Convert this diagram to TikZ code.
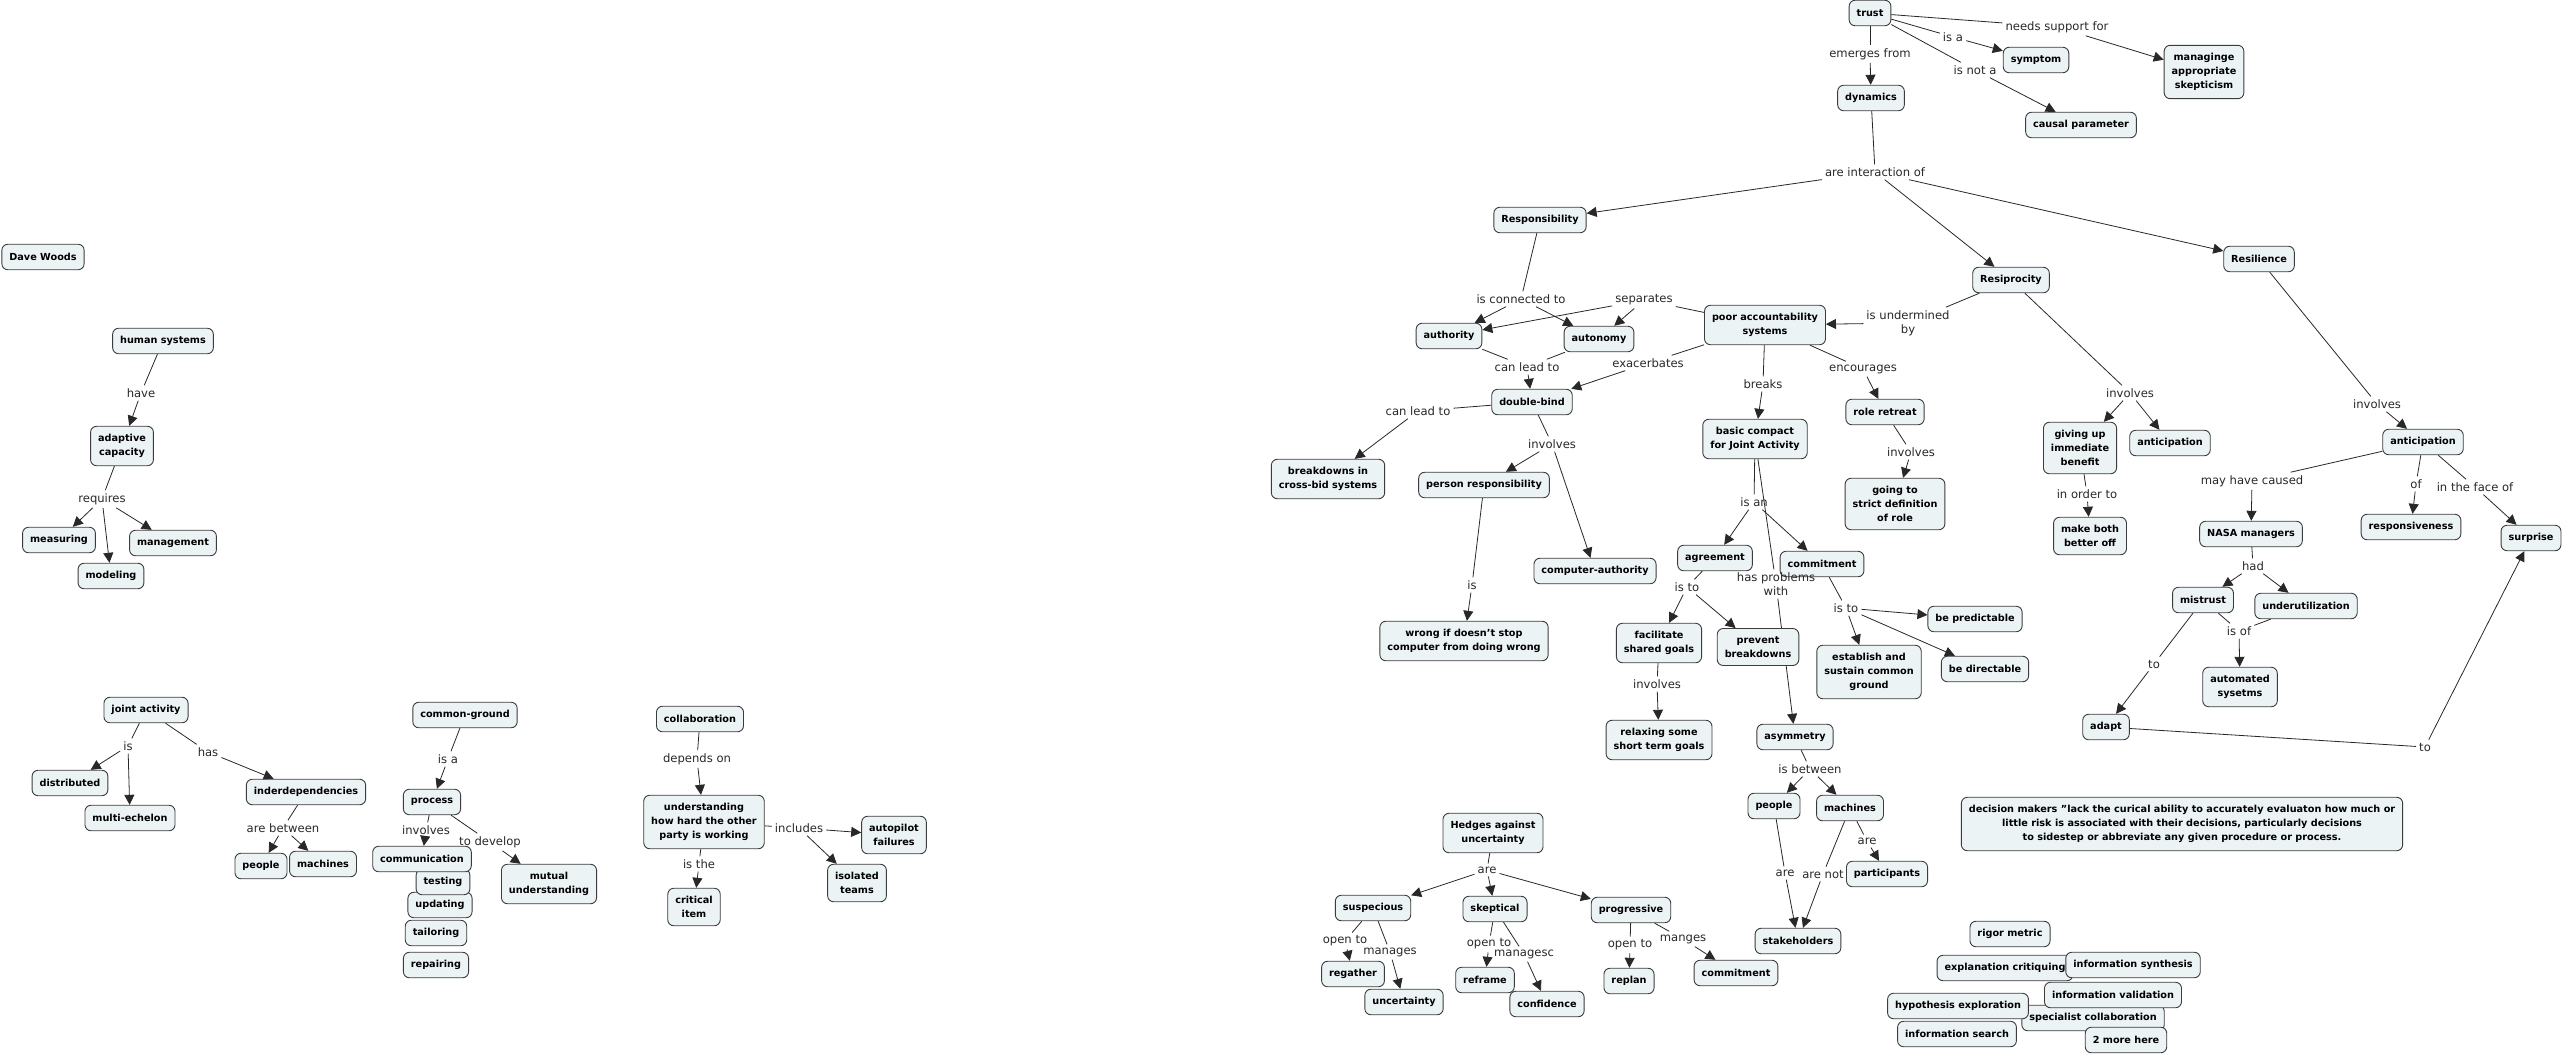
\documentclass[tikz,border=0pt]{standalone}
\usepackage{fontspec}
\setmainfont{DejaVu Sans}
\usetikzlibrary{arrows.meta,backgrounds}

\definecolor{boxfill}{RGB}{236,243,245}
\definecolor{boxline}{RGB}{60,60,60}
\definecolor{linkgray}{RGB}{40,40,40}

\begin{document}
\begin{tikzpicture}[x=1pt,y=-1pt,
  cbox/.style={draw=boxline, fill=boxfill, rounded corners=6pt, line width=0.9pt,
    font=\fontsize{9.7}{14}\selectfont\bfseries, align=center,
    inner xsep=7.5pt, inner ysep=8pt, minimum height=25.5pt},
  lword/.style={font=\fontsize{11.6}{14}\selectfont, text=linkgray, align=center, inner sep=3pt},
  cline/.style={draw=linkgray, line width=0.8pt},
  carrow/.style={cline, -{Triangle[length=10pt,width=10pt]}}]

\useasboundingbox (0,0) rectangle (2563,1055);

% left column
\node[cbox] (woods) at (43,257) {Dave Woods};
\node[cbox] (humsys) at (163,341) {human systems};
\node[lword] (have) at (141,393) {have};
\node[cbox] (adapcap) at (122,446) {adaptive\\capacity};
\node[lword] (requires) at (102,499) {requires};
\node[cbox] (measuring) at (59,540) {measuring};
\node[cbox] (modeling) at (111,576) {modeling};
\node[cbox] (management) at (173,543) {management};

\node[cbox] (jointact) at (146,710) {joint activity};
\node[lword] (jaIs) at (128,746) {is};
\node[cbox] (distributed) at (70,783) {distributed};
\node[cbox] (multiech) at (130,818) {multi-echelon};
\node[lword] (jaHas) at (208,752) {has};
\node[cbox] (interdep) at (306,792) {inderdependencies};
\node[lword] (arebetween) at (283,828) {are between};
\node[cbox] (peopleA) at (261,866) {people};
\node[cbox] (machinesA) at (323,864) {machines};

\node[cbox] (commonground) at (465,715) {common-ground};
\node[lword] (isa) at (448,759) {is a};
\node[cbox] (process) at (432,802) {process};
\node[lword] (prInvolves) at (426,830) {involves};
\node[lword] (todevelop) at (490,842) {to develop};
\node[cbox] (repairing) at (436,965) {repairing};
\node[cbox] (tailoring) at (436,933) {tailoring};
\node[cbox] (updating) at (440,905) {updating};
\node[cbox] (testing) at (443,882) {testing};
\node[cbox] (communication) at (422,859) {communication};
\node[cbox] (mutual) at (549,884) {mutual\\understanding};

\node[cbox] (collab) at (700,719) {collaboration};
\node[lword] (dependson) at (697,759) {depends on};
\node[cbox] (understanding) at (704,822) {understanding\\how hard the other\\party is working};
\node[lword] (includes) at (799,828) {includes};
\node[cbox] (autopilot) at (894,835) {autopilot\\failures};
\node[cbox] (isolated) at (857,883) {isolated\\teams};
\node[lword] (isthe) at (699,864) {is the};
\node[cbox] (critical) at (694,907) {critical\\item};

% trust
\node[cbox] (trust) at (1870,13) {trust};
\node[lword] (emerges) at (1870,54) {emerges from};
\node[cbox] (dynamics) at (1871,98) {dynamics};
\node[lword] (trIsa) at (1953,37) {is a};
\node[cbox] (symptom) at (2036,60) {symptom};
\node[lword] (trIsnota) at (1975,70) {is not a};
\node[cbox] (causal) at (2081,125) {causal parameter};
\node[lword] (needs) at (2057,27) {needs support for};
\node[cbox] (managinge) at (2204,72) {managinge\\appropriate\\skepticism};
\node[lword] (interaction) at (1875,172) {are interaction of};

% responsibility
\node[cbox] (respons) at (1540,220) {Responsibility};
\node[lword] (isconn) at (1521,299) {is connected to};
\node[lword] (separates) at (1644,300) {separates};
\node[cbox] (authority) at (1449,336) {authority};
\node[cbox] (autonomy) at (1599,339) {autonomy};
\node[lword] (canlead) at (1527,367) {can lead to};
\node[lword] (exacerb) at (1648,363) {exacerbates};
\node[cbox] (doublebind) at (1532,402) {double-bind};
\node[lword] (canleadB) at (1418,411) {can lead to};
\node[cbox] (breakdowns) at (1328,479) {breakdowns in\\cross-bid systems};
\node[lword] (dbInvolves) at (1552,444) {involves};
\node[cbox] (personresp) at (1484,485) {person responsibility};
\node[cbox] (compauth) at (1595,571) {computer-authority};
\node[lword] (prIs) at (1472,585) {is};
\node[cbox] (wrongif) at (1464,641) {wrong if doesn't stop\\computer from doing wrong};

% accountability
\node[cbox] (poorAcc) at (1765,325) {poor accountability\\systems};
\node[lword] (undermined) at (1908,323) {is undermined\\by};
\node[lword] (breaks) at (1763,384) {breaks};
\node[lword] (encourages) at (1863,369) {encourages};
\node[cbox] (compact) at (1755,439) {basic compact\\for Joint Activity};
\node[cbox] (roleretreat) at (1885,412) {role retreat};
\node[lword] (rrInvolves) at (1911,452) {involves};
\node[cbox] (strictdef) at (1895,504) {going to\\strict definition\\of role};
\node[lword] (isan) at (1754,502) {is an};
\node[cbox] (agreement) at (1715,558) {agreement};
\node[cbox] (commitA) at (1822,564) {commitment};
\node[lword] (hasprob) at (1776,584) {has problems\\with};
\node[lword] (agIsto) at (1687,587) {is to};
\node[cbox] (facilitate) at (1659,643) {facilitate\\shared goals};
\node[cbox] (prevent) at (1758,647) {prevent\\breakdowns};
\node[lword] (cmIsto) at (1846,608) {is to};
\node[cbox] (predictable) at (1975,619) {be predictable};
\node[cbox] (establish) at (1869,672) {establish and\\sustain common\\ground};
\node[cbox] (directable) at (1985,669) {be directable};
\node[lword] (facInvolves) at (1657,684) {involves};
\node[cbox] (relaxing) at (1659,740) {relaxing some\\short term goals};
\node[cbox] (asymmetry) at (1795,737) {asymmetry};
\node[lword] (isbetween) at (1810,769) {is between};
\node[cbox] (peopleB) at (1774,806) {people};
\node[cbox] (machinesB) at (1850,808) {machines};
\node[lword] (maAre) at (1867,841) {are};
\node[cbox] (participants) at (1887,874) {participants};
\node[lword] (peAre) at (1785,873) {are};
\node[lword] (areNot) at (1823,874) {are not};
\node[cbox] (stakeholders) at (1798,941) {stakeholders};

% reciprocity and resilience
\node[cbox] (resilience) at (2259,259) {Resilience};
\node[cbox] (resip) at (2011,280) {Resiprocity};
\node[lword] (rsInvolves) at (2130,393) {involves};
\node[cbox] (givingup) at (2080,448) {giving up\\immediate\\benefit};
\node[cbox] (anticipA) at (2170,443) {anticipation};
\node[lword] (inorder) at (2087,494) {in order to};
\node[cbox] (makeboth) at (2090,536) {make both\\better off};
\node[lword] (rlInvolves) at (2377,404) {involves};
\node[cbox] (anticipB) at (2423,442) {anticipation};
\node[lword] (mayhave) at (2252,481) {may have caused};
\node[lword] (anOf) at (2416,484) {of};
\node[lword] (faceof) at (2475,487) {in the face of};
\node[cbox] (nasa) at (2251,534) {NASA managers};
\node[cbox] (responsive) at (2411,527) {responsiveness};
\node[cbox] (surprise) at (2531,538) {surprise};
\node[lword] (had) at (2253,566) {had};
\node[cbox] (mistrust) at (2203,600) {mistrust};
\node[cbox] (underutil) at (2306,606) {underutilization};
\node[lword] (isof) at (2239,631) {is of};
\node[cbox] (automated) at (2240,687) {automated\\sysetms};
\node[lword] (mtTo) at (2154,664) {to};
\node[cbox] (adapt) at (2106,727) {adapt};
\node[lword] (adTo) at (2425,747) {to};
\node[cbox] (decision) at (2182,824) {decision makers "lack the curical ability to accurately evaluaton how much or\\little risk is associated with their decisions, particularly decisions\\to sidestep or abbreviate any given procedure or process.};

% hedges
\node[cbox] (hedges) at (1493,833) {Hedges against\\uncertainty};
\node[lword] (hgAre) at (1487,870) {are};
\node[cbox] (suspecious) at (1373,908) {suspecious};
\node[cbox] (skeptical) at (1495,909) {skeptical};
\node[cbox] (progressive) at (1631,910) {progressive};
\node[lword] (suOpen) at (1345,941) {open to};
\node[lword] (suManages) at (1390,952) {manages};
\node[cbox] (regather) at (1353,974) {regather};
\node[cbox] (uncertainty) at (1404,1002) {uncertainty};
\node[lword] (skOpen) at (1489,944) {open to};
\node[lword] (skManagesc) at (1524,954) {managesc};
\node[cbox] (reframe) at (1485,980) {reframe};
\node[cbox] (confidence) at (1547,1004) {confidence};
\node[lword] (prOpen) at (1630,945) {open to};
\node[lword] (prManges) at (1683,939) {manges};
\node[cbox] (replan) at (1629,981) {replan};
\node[cbox] (commitB) at (1736,973) {commitment};

% methods list
\node[cbox] (explcrit) at (2005,968) {explanation critiquing};
\node[cbox] (infosynth) at (2133,965) {information synthesis};
\node[cbox] (specialist) at (2093,1018) {specialist collaboration};
\node[cbox] (infovalid) at (2113,995) {information validation};
\node[cbox] (hypothesis) at (1958,1006) {hypothesis exploration};
\node[cbox] (infosearch) at (1957,1034) {information search};
\node[cbox] (twomore) at (2126,1040) {2 more here};
\node[cbox] (rigor) at (2010,934) {rigor metric};

\begin{scope}[on background layer]
\fill[white] (0,0) rectangle (2563,1055);

\draw[cline] (humsys) -- (have);
\draw[carrow] (have) -- (adapcap);
\draw[cline] (adapcap) -- (requires);
\draw[carrow] (requires) -- (measuring);
\draw[carrow] (requires) -- (modeling);
\draw[carrow] (requires) -- (management);

\draw[cline] (jointact) -- (jaIs);
\draw[carrow] (jaIs) -- (distributed);
\draw[carrow] (jaIs) -- (multiech);
\draw[cline] (jointact) -- (jaHas);
\draw[carrow] (jaHas) -- (interdep);
\draw[cline] (interdep) -- (arebetween);
\draw[carrow] (arebetween) -- (peopleA);
\draw[carrow] (arebetween) -- (machinesA);

\draw[cline] (commonground) -- (isa);
\draw[carrow] (isa) -- (process);
\draw[cline] (process) -- (prInvolves);
\draw[carrow] (prInvolves) -- (communication);
\draw[cline] (process) -- (todevelop);
\draw[carrow] (todevelop) -- (mutual);

\draw[cline] (collab) -- (dependson);
\draw[carrow] (dependson) -- (understanding);
\draw[cline] (understanding) -- (includes);
\draw[carrow] (includes) -- (autopilot);
\draw[carrow] (includes) -- (isolated);
\draw[cline] (understanding) -- (isthe);
\draw[carrow] (isthe) -- (critical);

\draw[cline] (trust) -- (emerges);
\draw[carrow] (emerges) -- (dynamics);
\draw[cline] (trust) -- (trIsa);
\draw[carrow] (trIsa) -- (symptom);
\draw[cline] (trust) -- (trIsnota);
\draw[carrow] (trIsnota) -- (causal);
\draw[cline] (trust) -- (needs);
\draw[carrow] (needs) -- (managinge);
\draw[cline] (dynamics) -- (interaction);
\draw[carrow] (interaction) -- (respons);
\draw[carrow] (interaction) -- (resip);
\draw[carrow] (interaction) -- (resilience);

\draw[cline] (respons) -- (isconn);
\draw[carrow] (isconn) -- (authority);
\draw[carrow] (isconn) -- (autonomy);
\draw[cline] (poorAcc) -- (separates);
\draw[carrow] (separates) -- (authority);
\draw[carrow] (separates) -- (autonomy);
\draw[cline] (authority) -- (canlead);
\draw[cline] (autonomy) -- (canlead);
\draw[carrow] (canlead) -- (doublebind);
\draw[cline] (poorAcc) -- (exacerb);
\draw[carrow] (exacerb) -- (doublebind);
\draw[cline] (doublebind) -- (canleadB);
\draw[carrow] (canleadB) -- (breakdowns);
\draw[cline] (doublebind) -- (dbInvolves);
\draw[carrow] (dbInvolves) -- (personresp);
\draw[carrow] (dbInvolves) -- (compauth);
\draw[cline] (personresp) -- (prIs);
\draw[carrow] (prIs) -- (wrongif);

\draw[cline] (resip) -- (undermined);
\draw[carrow] (undermined) -- (poorAcc);
\draw[cline] (poorAcc) -- (breaks);
\draw[carrow] (breaks) -- (compact);
\draw[cline] (poorAcc) -- (encourages);
\draw[carrow] (encourages) -- (roleretreat);
\draw[cline] (roleretreat) -- (rrInvolves);
\draw[carrow] (rrInvolves) -- (strictdef);
\draw[cline] (compact) -- (isan);
\draw[carrow] (isan) -- (agreement);
\draw[carrow] (isan) -- (commitA);
\draw[cline] (compact) -- (hasprob);
\draw[carrow] (hasprob) -- (asymmetry);
\draw[cline] (agreement) -- (agIsto);
\draw[carrow] (agIsto) -- (facilitate);
\draw[carrow] (agIsto) -- (prevent);
\draw[cline] (commitA) -- (cmIsto);
\draw[carrow] (cmIsto) -- (establish);
\draw[carrow] (cmIsto) -- (predictable);
\draw[carrow] (cmIsto) -- (directable);
\draw[cline] (facilitate) -- (facInvolves);
\draw[carrow] (facInvolves) -- (relaxing);
\draw[cline] (asymmetry) -- (isbetween);
\draw[carrow] (isbetween) -- (peopleB);
\draw[carrow] (isbetween) -- (machinesB);
\draw[cline] (peopleB) -- (peAre);
\draw[carrow] (peAre) -- (stakeholders);
\draw[cline] (machinesB) -- (areNot);
\draw[carrow] (areNot) -- (stakeholders);
\draw[cline] (machinesB) -- (maAre);
\draw[carrow] (maAre) -- (participants);

\draw[cline] (resip) -- (rsInvolves);
\draw[carrow] (rsInvolves) -- (givingup);
\draw[carrow] (rsInvolves) -- (anticipA);
\draw[cline] (givingup) -- (inorder);
\draw[carrow] (inorder) -- (makeboth);
\draw[cline] (resilience) -- (rlInvolves);
\draw[carrow] (rlInvolves) -- (anticipB);
\draw[cline] (anticipB) -- (mayhave);
\draw[carrow] (mayhave) -- (nasa);
\draw[cline] (anticipB) -- (anOf);
\draw[carrow] (anOf) -- (responsive);
\draw[cline] (anticipB) -- (faceof);
\draw[carrow] (faceof) -- (surprise);
\draw[cline] (nasa) -- (had);
\draw[carrow] (had) -- (mistrust);
\draw[carrow] (had) -- (underutil);
\draw[cline] (mistrust) -- (isof);
\draw[cline] (underutil) -- (isof);
\draw[carrow] (isof) -- (automated);
\draw[cline] (mistrust) -- (mtTo);
\draw[carrow] (mtTo) -- (adapt);
\draw[cline] (adapt) -- (adTo);
\draw[carrow] (adTo) -- (surprise);

\draw[cline] (hedges) -- (hgAre);
\draw[carrow] (hgAre) -- (suspecious);
\draw[carrow] (hgAre) -- (skeptical);
\draw[carrow] (hgAre) -- (progressive);
\draw[cline] (suspecious) -- (suOpen);
\draw[carrow] (suOpen) -- (regather);
\draw[cline] (suspecious) -- (suManages);
\draw[carrow] (suManages) -- (uncertainty);
\draw[cline] (skeptical) -- (skOpen);
\draw[carrow] (skOpen) -- (reframe);
\draw[cline] (skeptical) -- (skManagesc);
\draw[carrow] (skManagesc) -- (confidence);
\draw[cline] (progressive) -- (prOpen);
\draw[carrow] (prOpen) -- (replan);
\draw[cline] (progressive) -- (prManges);
\draw[carrow] (prManges) -- (commitB);
\end{scope}

\end{tikzpicture}
\end{document}
